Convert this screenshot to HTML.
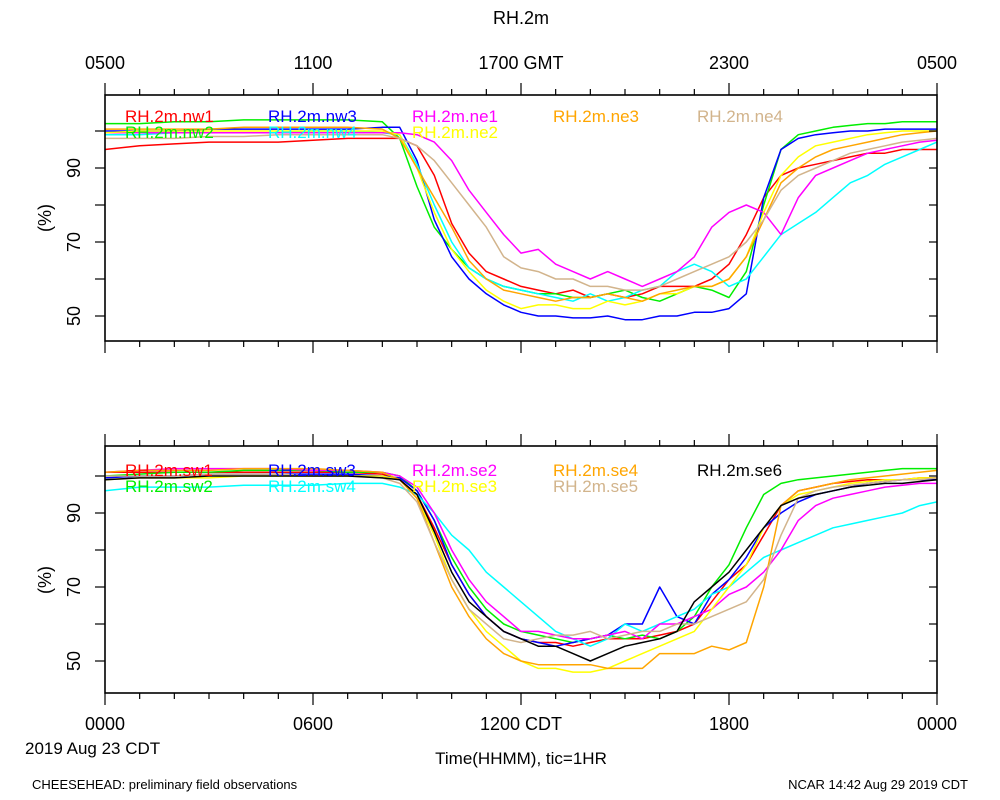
<!DOCTYPE html>
<html><head><meta charset="utf-8">
<style>
body{margin:0;background:#fff;}
svg{display:block;font-family:"Liberation Sans",sans-serif;}
</style></head>
<body>
<svg id="chart" width="1000" height="800" viewBox="0 0 1000 800">
<text x="521" y="24" font-size="18" text-anchor="middle">RH.2m</text>
<text x="25" y="754" font-size="17">2019 Aug 23 CDT</text>
<text x="521" y="764" font-size="17" text-anchor="middle">Time(HHMM), tic=1HR</text>
<text x="32" y="789" font-size="13">CHEESEHEAD: preliminary field observations</text>
<text x="968" y="789" font-size="13" text-anchor="end">NCAR 14:42 Aug 29 2019 CDT</text>
</svg>
<script>
const hours=[0,1,2,3,4,5,6,7,8,8.5,9,9.5,10,10.5,11,11.5,12,12.5,13,13.5,14,14.5,15,15.5,16,16.5,17,17.5,18,18.5,19,19.5,20,20.5,21,21.5,22,22.5,23,23.5,24];
const topTickLabels=["0500","1100","1700 GMT","2300","0500"];
const bottomTickLabels=["0000","0600","1200 CDT","1800","0000"];
const yTickLabels=[50,70,90];
const topNames=["RH.2m.nw1","RH.2m.nw2","RH.2m.nw3","RH.2m.nw4","RH.2m.ne1","RH.2m.ne2","RH.2m.ne3","RH.2m.ne4"];
const nw1=[95,96,96.5,97,97,97,97.5,98,98, 98,96,88,75,67,62,60,58, 57,56,57,55,56,55,56,58, 58,58,60,64,72,82,88,90, 91,92,93,94,94,95,95,95];
const nw2=[102,102,102.5,102.5,103,103,103,103,102.5, 98,85,74,68,63,60,58,57, 56,56,55,55,56,57,55,54, 56,58,57,55,62,80,95,99, 100,101,101.5,102,102,102.5,102.5,102.5];
const nw3=[100,100,100,100.5,100.5,100.5,100.5,100.5,101, 101,92,76,66,60,56,53,51, 50,50,49.5,49.5,50,49,49,50, 50,51,51,52,56,82,95,98, 99,99.5,100,100,100.5,100.5,100.5,100.5];
const nw4=[99,99,99.5,99.5,99.5,99.5,100,100,99.5, 99,91,80,70,63,60,58,57, 56,55,54,56,54,55,57,58, 62,64,62,58,60,66,72,75, 78,82,86,88,91,93,95,97];
const ne1=[99.5,99.5,99.5,99.5,99.5,99.5,99.5,99.5,99.5, 99.5,99,97,92,84,78,72,67, 68,64,62,60,62,60,58,60, 62,66,74,78,80,78,72,82, 88,90,92,94,95,96,97,97.5];
const ne2=[99.5,100,100,100,100,100,100,100,100, 99,90,78,68,62,57,54,52, 53,53,52,52,54,53,54,56, 56,58,58,60,66,78,88,93, 96,97,98,99,99.5,100,100,100];
const ne3=[100.5,100.5,100.5,100.5,101,101,101,101,100.5, 98,90,82,74,65,60,57,56, 55,54,55,55,56,55,54,56, 57,58,58,60,66,76,86,90, 93,95,96,97,98,99,99.5,100];
const ne4=[98,98,98,98.5,98.5,99,99,99,99, 98,96,92,86,80,74,66,63, 62,60,60,58,58,57,57,58, 60,62,64,66,70,76,84,88, 90,92,94,95,96,97,97.5,98];
const botNames=["RH.2m.sw1","RH.2m.sw2","RH.2m.sw3","RH.2m.sw4","RH.2m.se2","RH.2m.se3","RH.2m.se4","RH.2m.se5","RH.2m.se6"];
const sw1=[101,101,101,101,101,101,101,101,100.5, 99,95,86,76,68,62,58,56, 55,55,54,55,56,56,56,57, 58,60,66,72,76,84,92,96, 97,98,98.5,99,99,99,99.5,99.5];
const sw2=[100,100.5,101,101,101.5,101.5,101.5,101,101, 100,96,88,78,70,64,60,58, 57,56,55,56,57,56,57,56, 58,62,70,76,86,95,98,99, 99.5,100,100.5,101,101.5,102,102,102];
const sw3=[99.5,100,100,100.5,100.5,100.5,100.5,100.5,100, 99.5,96,88,76,68,62,58,56, 55,54,55,56,57,60,60,70, 62,60,68,72,78,86,90,93, 95,96,97,98,98.5,99,99,99];
const sw4=[96,97,97,97,97.5,97.5,97.5,98,98, 97,95,90,84,80,74,70,66, 62,58,56,54,56,60,58,60, 62,64,68,70,74,78,80,82, 84,86,87,88,89,90,92,93];
const se2=[101,101.5,102,102,102,102,101.5,101.5,101, 100,97,90,80,72,66,62,58, 58,57,56,56,57,58,56,60, 60,62,64,68,70,74,80,88, 92,94,95,96,97,97.5,98,98];
const se3=[99,99.5,99.5,99.5,100,100,100,100,100, 99,94,84,72,64,58,54,50, 48,48,47,47,48,50,52,54, 56,58,64,70,76,86,92,95, 96,97,98,98.5,99,99,99.5,99.5];
const se4=[101,101.5,101.5,101.5,102,102,102,101.5,101, 99,94,82,70,62,56,52,50, 49,49,49,49,48,48,48,52, 52,52,54,53,55,70,92,96, 97,98,99,99.5,100,100.5,101,101.5];
const se5=[100,100,100,100.5,100.5,100.5,100,100,99.5, 98,93,82,72,64,60,56,55, 56,57,57,58,56,57,58,58, 60,60,62,64,66,72,84,94, 96,97,97.5,98,98.5,99,99,99.5];
const se6=[99,99.5,99.5,100,100,100,100,100,99.5, 99,95,85,74,66,62,58,56, 54,54,52,50,52,54,55,56, 58,66,70,74,80,86,92,94, 95,96,97,97.5,98,98,98.5,99];

const NS="http://www.w3.org/2000/svg";
const svg=document.getElementById('chart');
const X0=105,X1=937;
function xs(h){return X0+(X1-X0)*h/24;}
function mk(tag,attrs,parent){const e=document.createElementNS(NS,tag);for(const k in attrs)e.setAttribute(k,attrs[k]);(parent||svg).appendChild(e);return e;}

function panel(cfg){
  const g=mk('g',{});
  
  
  const ys=v=>cfg.y50-(v-50)*3.7;
  cfg.series.forEach((s,i)=>{
    const d=s.data.map((v,j)=>(j?'L':'M')+xs(hours[j]).toFixed(1)+','+ys(v).toFixed(1)).join('');
    const p=mk('path',{d:d,fill:'none',stroke:s.color,'stroke-width':1.5,'stroke-linejoin':'round'},g);
    
    
  });
  const fr=mk('rect',{x:X0,y:cfg.top,width:X1-X0,height:cfg.bot-cfg.top,fill:'none',stroke:'#000','stroke-width':1.6},g);
  
  
  for(let h=0;h<=24;h++){
    const L=h%6===0?12:6;const x=xs(h);
    mk('line',{x1:x,y1:cfg.top,x2:x,y2:cfg.top-L,stroke:'#000','stroke-width':1.2},g);
    mk('line',{x1:x,y1:cfg.bot,x2:x,y2:cfg.bot+L,stroke:'#000','stroke-width':1.2},g);
  }
  for(let v=50;v<=100;v+=10){
    const y=ys(v);
    mk('line',{x1:X0,y1:y,x2:X0-10,y2:y,stroke:'#000','stroke-width':1.2},g);
    mk('line',{x1:X1,y1:y,x2:X1-8,y2:y,stroke:'#000','stroke-width':1.2},g);
  }
  yTickLabels.forEach(v=>{
    const t=mk('text',{x:0,y:0,'font-size':18,'text-anchor':'middle',transform:`translate(${cfg.ylabX},${ys(v)}) rotate(-90)`},g);
    t.textContent=v;
    
    
  });
  const yt=mk('text',{x:0,y:0,'font-size':18,'text-anchor':'middle',transform:`translate(51,${cfg.ytY}) rotate(-90)`},g);
  yt.textContent='(%)';
  
  
  cfg.series.forEach((s,i)=>{
    const pos=cfg.legend[i];
    const t=mk('text',{x:pos[0],y:pos[1],'font-size':17,fill:s.color},g);
    t.textContent=s.label;
    
    
  });
}
const colTop=['#ff0000','#00ee00','#0000ff','#00ffff','#ff00ff','#ffff00','#ffa500','#d2b48c'];
const dataTop=[nw1,nw2,nw3,nw4,ne1,ne2,ne3,ne4];
const colBot=['#ff0000','#00ee00','#0000ff','#00ffff','#ff00ff','#ffff00','#ffa500','#d2b48c','#000000'];
const dataBot=[sw1,sw2,sw3,sw4,se2,se3,se4,se5,se6];
panel({name:'top-panel',top:95,bot:341,y50:316,ylabX:80,ytY:218,
  series:dataTop.map((d,i)=>({data:d,color:colTop[i],label:topNames[i]})),
  legend:[[125,122],[125,138],[268,122],[268,138],[412,122],[412,138],[553,122],[697,122]]});
panel({name:'bottom-panel',top:446,bot:693,y50:661,ylabX:80,ytY:580,
  series:dataBot.map((d,i)=>({data:d,color:colBot[i],label:botNames[i]})),
  legend:[[125,476],[125,492],[268,476],[268,492],[412,476],[412,492],[553,476],[553,492],[697,476]]});
[0,6,12,18,24].forEach((h,i)=>{
  const t=mk('text',{x:xs(h),y:69,'font-size':18,'text-anchor':'middle'});
  t.textContent=topTickLabels[i];
  
  
  const b=mk('text',{x:xs(h),y:730,'font-size':18,'text-anchor':'middle'});
  b.textContent=bottomTickLabels[i];
  
  
});
</script>
</body></html>
